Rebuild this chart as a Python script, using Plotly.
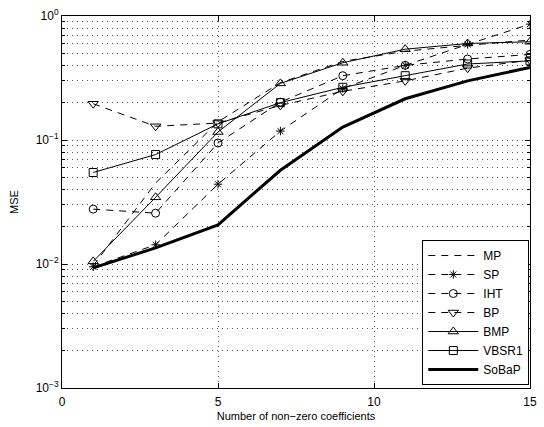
import plotly.graph_objects as go

# ---- data ----
x = [1, 3, 5, 7, 9, 11, 13, 15]
mp = [0.0097, 0.045, 0.14, 0.29, 0.43, 0.52, 0.58, 0.64]
sp = [0.0095, 0.0143, 0.044, 0.118, 0.26, 0.40, 0.59, 0.86]
iht = [0.0277, 0.0257, 0.0946, 0.202, 0.33, 0.40, 0.45, 0.49]
bp = [0.196, 0.129, 0.137, 0.19, 0.247, 0.30, 0.38, 0.44]
bmp = [0.0105, 0.0345, 0.116, 0.286, 0.42, 0.54, 0.60, 0.62]
vbsr1 = [0.0547, 0.0763, 0.135, 0.20, 0.266, 0.33, 0.41, 0.435]
sobap = [0.0093, 0.0135, 0.0207, 0.057, 0.127, 0.215, 0.30, 0.385]

y_tickvals = [0.001, 0.01, 0.1, 1]
y_ticktext = ["10<sup>−3</sup>", "10<sup>−2</sup>", "10<sup>−1</sup>", "10<sup>0</sup>"]
x_tickvals = [0, 5, 10, 15]

FONT = "Liberation Sans, Arial, Helvetica, sans-serif"
DASH = "7px,6px"
GRID = "#555555"
GDASH = "1px,4px"

series = [
    ("MP", mp, DASH, None, 8, 1),
    ("SP", sp, DASH, "asterisk-open", 7, 1),
    ("IHT", iht, DASH, "circle-open", 8, 1),
    ("BP", bp, DASH, "triangle-down-open", 9, 1),
    ("BMP", bmp, "solid", "triangle-up-open", 9, 1),
    ("VBSR1", vbsr1, "solid", "square-open", 8, 1),
    ("SoBaP", sobap, "solid", None, 8, 3),
]

fig = go.Figure()
for name, ys, dash, sym, size, lw in series:
    if sym is None:
        fig.add_trace(go.Scatter(
            x=x, y=ys, name=name, mode="lines",
            line=dict(color="black", width=lw, dash=dash),
        ))
    else:
        fig.add_trace(go.Scatter(
            x=x, y=ys, name=name, mode="lines+markers",
            line=dict(color="black", width=lw, dash=dash),
            marker=dict(symbol=sym, size=size, color="black",
                        line=dict(color="black", width=1)),
        ))

minor_vals = [k * 10 ** e for e in (-3, -2, -1) for k in range(2, 10)]

fig.update_layout(
    width=544, height=427,
    margin=dict(l=62, r=7, t=15, b=38),
    paper_bgcolor="white", plot_bgcolor="white",
    font=dict(family=FONT, size=11, color="black"),
    showlegend=True,
    legend=dict(
        x=0.9985, xanchor="right", y=0.008, yanchor="bottom",
        bgcolor="white", bordercolor="black", borderwidth=1,
        font=dict(family=FONT, size=12, color="black"),
        itemwidth=50, tracegroupgap=0,
    ),
    xaxis=dict(
        range=[0, 15], tickmode="array", tickvals=x_tickvals,
        ticks="inside", ticklen=5, tickcolor="black",
        showline=True, linecolor="black", linewidth=1, mirror="ticks",
        showgrid=True, gridcolor=GRID, gridwidth=1, griddash=GDASH,
        zeroline=False, ticklabelstandoff=3, ticklabeloverflow="allow",
        title=dict(text="Number of non−zero coefficients", standoff=3,
                   font=dict(family=FONT, size=11)),
        tickfont=dict(family=FONT, size=12),
    ),
    yaxis=dict(
        type="log", range=[-3, 0],
        tickmode="array", tickvals=y_tickvals, ticktext=y_ticktext,
        ticks="inside", ticklen=5, tickcolor="black",
        showline=True, linecolor="black", linewidth=1, mirror="ticks",
        showgrid=True, gridcolor=GRID, gridwidth=1, griddash=GDASH,
        zeroline=False, ticklabeloverflow="allow",
        minor=dict(tickmode="array", tickvals=minor_vals, ticks="inside",
                   ticklen=3, tickcolor="black", showgrid=True,
                   gridcolor=GRID, gridwidth=1, griddash=GDASH),
        title=dict(text="MSE", standoff=14, font=dict(family=FONT, size=11)),
        tickfont=dict(family=FONT, size=12),
    ),
)

fig.write_html(
    "out.html",
    config={"displayModeBar": False, "staticPlot": True},
    post_script="document.body.style.margin='0';document.body.style.overflow='hidden';",
)
